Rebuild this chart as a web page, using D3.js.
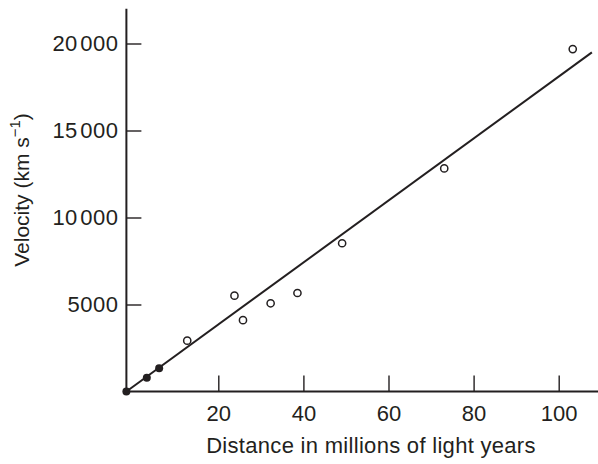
<!DOCTYPE html>
<html>
<head>
<meta charset="utf-8">
<script src="https://cdn.jsdelivr.net/npm/d3@7"></script>
<style>
  html, body { margin: 0; padding: 0; background: #fff; }
  svg { display: block; }
  text { font-family: "Liberation Sans", Arial, Helvetica, sans-serif; fill: #231f20; }
</style>
</head>
<body>
<svg id="chart" width="598" height="464"></svg>
<script>
// Data
const distanceOpen = [12.7, 23.8, 25.8, 32.3, 38.6, 49.1, 73.1, 103.3];
const velocityOpen = [2920, 5510, 4100, 5070, 5660, 8520, 12820, 19680];
const distanceFilled = [-1.6, 3.2, 6.1];
const velocityFilled = [0, 790, 1340];
const fitDistance = [-1.6, 107.8];
const fitVelocity = [0, 19490];
const xTicks = [20, 40, 60, 80, 100];
const yTicks = [5000, 10000, 15000, 20000];
const yTickLabels = ["5000", "10\u200A000", "15\u200A000", "20\u200A000"];
const xAxisExtent = [-1.6, 109.7];
const yAxisExtent = [0, 22000];
const xTitle = "Distance in millions of light years";

const svg = d3.select("#chart");
const ink = "#231f20";

const x = d3.scaleLinear().domain([0, 100]).range([133.2, 558.7]);
const y = d3.scaleLinear().domain([0, 20000]).range([391.5, 43.5]);

// Axes lines
svg.append("line")
  .attr("x1", x(xAxisExtent[0])).attr("x2", x(xAxisExtent[1]))
  .attr("y1", y(0)).attr("y2", y(0))
  .attr("stroke", ink).attr("stroke-width", 2);
svg.append("line")
  .attr("x1", x(xAxisExtent[0])).attr("x2", x(xAxisExtent[0]))
  .attr("y1", y(yAxisExtent[0]) + 1).attr("y2", y(yAxisExtent[1]))
  .attr("stroke", ink).attr("stroke-width", 2);

// X axis ticks
const gx = svg.append("g")
  .attr("transform", `translate(0,${y(0)})`)
  .call(d3.axisBottom(x).tickValues(xTicks).tickSizeInner(-16).tickSizeOuter(0).tickPadding(14).tickFormat(d3.format("d")));
gx.select(".domain").remove();
gx.selectAll(".tick line").attr("stroke", ink).attr("stroke-width", 1.4);
gx.selectAll(".tick text").attr("font-size", 22).attr("font-family", null).attr("fill", ink);

// Y axis ticks
const gy = svg.append("g")
  .attr("transform", `translate(${x(xAxisExtent[0])},0)`)
  .call(d3.axisLeft(y).tickValues(yTicks).tickSizeInner(-15).tickSizeOuter(0).tickPadding(8)
    .tickFormat((d, i) => yTickLabels[i]));
gy.select(".domain").remove();
gy.selectAll(".tick line").attr("stroke", ink).attr("stroke-width", 1.4);
gy.selectAll(".tick text").attr("font-size", 22).attr("font-family", null).attr("fill", ink)
  .attr("letter-spacing", 0.5);

// Fit line
svg.append("line")
  .attr("x1", x(fitDistance[0])).attr("y1", y(fitVelocity[0]))
  .attr("x2", x(fitDistance[1])).attr("y2", y(fitVelocity[1]))
  .attr("stroke", ink).attr("stroke-width", 2);

// Open points
svg.append("g").selectAll("circle")
  .data(distanceOpen.map((d, i) => [d, velocityOpen[i]]))
  .join("circle")
  .attr("cx", d => x(d[0])).attr("cy", d => y(d[1]))
  .attr("r", 3.6).attr("fill", "#fff").attr("stroke", ink).attr("stroke-width", 1.5);

// Filled points
svg.append("g").selectAll("circle")
  .data(distanceFilled.map((d, i) => [d, velocityFilled[i]]))
  .join("circle")
  .attr("cx", d => x(d[0])).attr("cy", d => y(d[1]))
  .attr("r", 4).attr("fill", ink);

// X title
svg.append("text")
  .attr("x", 371).attr("y", 453)
  .attr("text-anchor", "middle").attr("font-size", 22).attr("letter-spacing", 0.3)
  .text(xTitle);

// Y title
const yt = svg.append("text")
  .attr("transform", "translate(29,190) rotate(-90)")
  .attr("text-anchor", "middle").attr("font-size", 21);
yt.append("tspan").text("Velocity (km s");
yt.append("tspan").attr("font-size", 15).attr("dy", -9).text("−1");
yt.append("tspan").attr("dy", 9).text(")");
</script>
</body>
</html>
